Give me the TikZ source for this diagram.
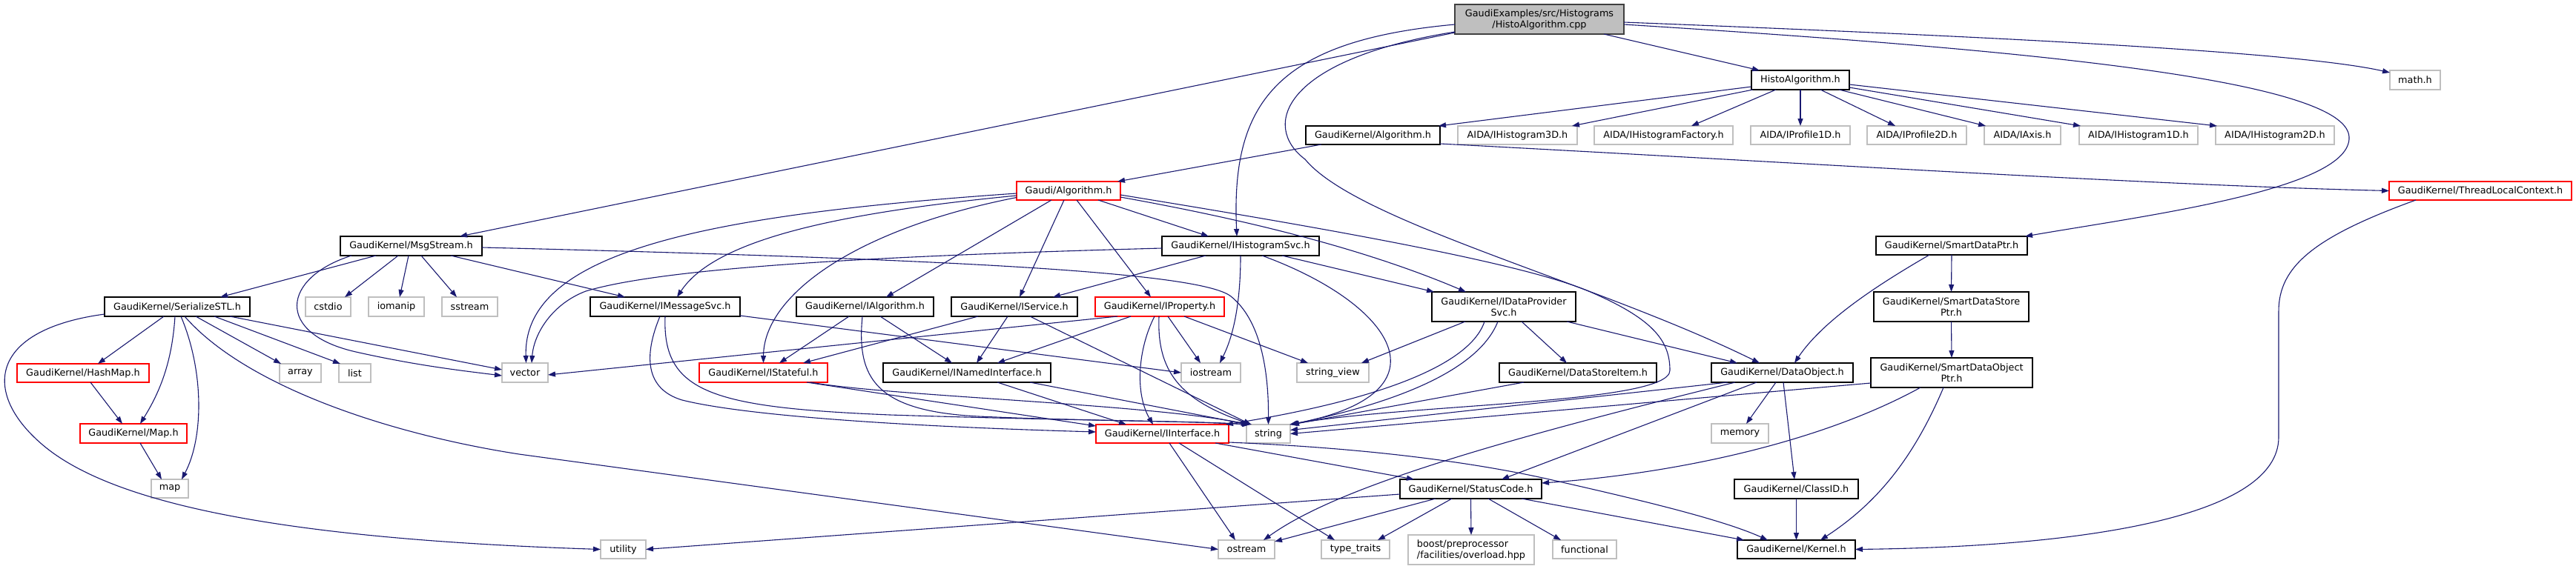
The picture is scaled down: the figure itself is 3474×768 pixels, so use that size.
\documentclass[tikz,border=0pt]{standalone}
\usepackage{fontspec}
\setmainfont{DejaVu Sans}
\usetikzlibrary{arrows.meta}
\definecolor{edgec}{HTML}{191970}
\definecolor{sysgray}{HTML}{BFBFBF}
\definecolor{rootfill}{HTML}{BFBFBF}
\definecolor{rootdraw}{HTML}{404040}
\definecolor{truncred}{HTML}{FF0000}
\newcommand{\nodefont}{\fontsize{12.8}{15}\selectfont}
\tikzset{
  nd/.style={rectangle, inner sep=0pt, outer sep=0pt, align=center, font=\nodefont, line width=1.2pt, fill=white},
  doc/.style={nd, draw=black},
  trunc/.style={nd, draw=truncred},
  sys/.style={nd, draw=sysgray},
  rootn/.style={nd, draw=rootdraw, fill=rootfill},
  sz/.style 2 args={minimum width=#1pt, minimum height=#2pt},
  dep/.style={draw=edgec, line width=1.1pt, -{Triangle[length=10pt,width=7pt]}}
}
\begin{document}
\begin{tikzpicture}[x=1pt,y=-1pt]
\useasboundingbox (0,0) rectangle (3474,768);
\fill[white] (0,0) rectangle (3474,768);

% ---------- nodes ----------
\node[rootn, sz={228}{40}] (root) at (2076,26) {GaudiExamples/src/Histograms\\/HistoAlgorithm.cpp};
\node[doc, sz={132}{26}] (histoh) at (2428,108) {HistoAlgorithm.h};
\node[doc, sz={181}{25}] (gkalg) at (1851.5,182.5) {GaudiKernel/Algorithm.h};
\node[sys, sz={161}{25}] (h3d) at (2046.5,182.5) {AIDA/IHistogram3D.h};
\node[sys, sz={187}{25}] (hfac) at (2243.5,182.5) {AIDA/IHistogramFactory.h};
\node[sys, sz={134}{25}] (p1d) at (2428,182.5) {AIDA/IProfile1D.h};
\node[sys, sz={134}{25}] (p2d) at (2585,182.5) {AIDA/IProfile2D.h};
\node[sys, sz={103}{25}] (axis) at (2727.5,182.5) {AIDA/IAxis.h};
\node[sys, sz={160}{25}] (h1d) at (2884,182.5) {AIDA/IHistogram1D.h};
\node[sys, sz={160}{25}] (h2d) at (3068,182.5) {AIDA/IHistogram2D.h};
\node[sys, sz={68}{26}] (mathh) at (3257,108) {math.h};
\node[trunc, sz={246}{25}] (tlc) at (3345,257.5) {GaudiKernel/ThreadLocalContext.h};
\node[trunc, sz={140}{25}] (galg) at (1441,257.5) {Gaudi/Algorithm.h};
\node[doc, sz={191}{26}] (msg) at (554.5,332) {GaudiKernel/MsgStream.h};
\node[doc, sz={212}{26}] (hsvc) at (1673,332) {GaudiKernel/IHistogramSvc.h};
\node[doc, sz={204}{25}] (sdp) at (2632,331.5) {GaudiKernel/SmartDataPtr.h};
\node[doc, sz={196}{26}] (ser) at (239,414) {GaudiKernel/SerializeSTL.h};
\node[sys, sz={61}{26}] (cstdio) at (442.5,414) {cstdio};
\node[sys, sz={75}{26}] (iomanip) at (534.5,414) {iomanip};
\node[sys, sz={75}{26}] (sstream) at (633.5,414) {sstream};
\node[doc, sz={202}{26}] (imsg) at (897,414) {GaudiKernel/IMessageSvc.h};
\node[doc, sz={185}{26}] (ialg) at (1166.5,414) {GaudiKernel/IAlgorithm.h};
\node[doc, sz={170}{26}] (isvc) at (1368,414) {GaudiKernel/IService.h};
\node[trunc, sz={174}{26}] (iprop) at (1564,414) {GaudiKernel/IProperty.h};
\node[doc, sz={194}{40}] (idp) at (2028,414) {GaudiKernel/IDataProvider\\Svc.h};
\node[doc, sz={209}{40}] (sdsp) at (2631.5,414) {GaudiKernel/SmartDataStore\\Ptr.h};
\node[trunc, sz={178}{25}] (hash) at (112,503.5) {GaudiKernel/HashMap.h};
\node[sys, sz={56}{25}] (arr) at (405,503.5) {array};
\node[sys, sz={43}{25}] (lst) at (478.5,503.5) {list};
\node[sys, sz={62}{26}] (vec) at (708,503) {vector};
\node[trunc, sz={173}{26}] (istate) at (1029.5,503) {GaudiKernel/IStateful.h};
\node[doc, sz={226}{26}] (iname) at (1304,503) {GaudiKernel/INamedInterface.h};
\node[sys, sz={80}{26}] (iostr) at (1633,503) {iostream};
\node[sys, sz={97}{26}] (strview) at (1797.5,503) {string\_view};
\node[doc, sz={212}{26}] (dsi) at (2128,503) {GaudiKernel/DataStoreItem.h};
\node[doc, sz={191}{26}] (dobj) at (2403.5,503) {GaudiKernel/DataObject.h};
\node[doc, sz={218}{40}] (sdop) at (2632,503) {GaudiKernel/SmartDataObject\\Ptr.h};
\node[trunc, sz={144}{26}] (maph) at (180,585) {GaudiKernel/Map.h};
\node[trunc, sz={179}{25}] (iint) at (1567.5,585.5) {GaudiKernel/IInterface.h};
\node[sys, sz={59}{25}] (str) at (1710.5,585.5) {string};
\node[sys, sz={77}{26}] (mem) at (2346.5,585) {memory};
\node[sys, sz={50}{25}] (stdmap) at (229,659.5) {map};
\node[doc, sz={191}{26}] (status) at (1983.5,660) {GaudiKernel/StatusCode.h};
\node[doc, sz={167}{26}] (classid) at (2422.5,660) {GaudiKernel/ClassID.h};
\node[sys, sz={61}{25}] (util) at (840.5,741.5) {utility};
\node[sys, sz={76}{25}] (ostr) at (1681,741.5) {ostream};
\node[sys, sz={92}{25}] (ttraits) at (1828,741.5) {type\_traits};
\node[sys, sz={170}{40}, align=left] (boost) at (1984,742) {boost/preprocessor\\/facilities/overload.hpp};
\node[sys, sz={86}{25}] (func) at (2137,741.5) {functional};
\node[doc, sz={159}{25}] (kernel) at (2422.5,741.5) {GaudiKernel/Kernel.h};

% ---------- edges ----------
% root
\draw[dep] ([xshift=87]root.south) -- ([xshift=-55]histoh.north);
\draw[dep] ([yshift=2]root.south west) -- ([xshift=65.5]msg.north);
\draw[dep] ([yshift=-7]root.west) .. controls (1720,55) and (1660,140) .. ([xshift=-5]hsvc.north);
\draw[dep] ([yshift=-17]root.west) .. controls (1730,80) and (1700,170) .. (1760,215) .. controls (1830,300) and (2150,380) .. ([xshift=-30.5]dobj.north);
\draw[dep] ([yshift=-7]root.east) .. controls (2700,65) and (3165,105) .. (3168,185) .. controls (3171,255) and (2900,290) .. ([xshift=-3]sdp.north east);
\draw[dep] ([yshift=-4]root.east) .. controls (2700,50) and (3100,70) .. ([yshift=10]mathh.west);
% HistoAlgorithm.h
\draw[dep] ([yshift=-9]histoh.west) -- ([xshift=-2]gkalg.north east);
\draw[dep] ([xshift=2]histoh.south west) -- ([xshift=73.5]h3d.north);
\draw[dep] ([xshift=-33]histoh.south) -- ([xshift=37.5]hfac.north);
\draw[dep] (histoh.south) -- (p1d.north);
\draw[dep] ([xshift=27]histoh.south) -- ([xshift=-29]p2d.north);
\draw[dep] ([xshift=52]histoh.south) -- ([xshift=-49.5]axis.north);
\draw[dep] ([yshift=-10]histoh.east) -- ([xshift=2]h1d.north west);
\draw[dep] ([yshift=-6]histoh.east) -- ([xshift=2]h2d.north west);
% GaudiKernel/Algorithm.h
\draw[dep] ([xshift=-69.5]gkalg.south) -- ([xshift=-4]galg.north east);
\draw[dep] ([yshift=-11.5]gkalg.east) .. controls (2400,218) and (2900,250) .. (tlc.west);
\draw[dep] ([xshift=-87]tlc.south) .. controls (3120,320) and (3073,360) .. (3073,420) -- (3073,590) .. controls (3073,700) and (2800,738) .. (kernel.east);
% Gaudi/Algorithm.h
\draw[dep] ([yshift=-3.5]galg.west) .. controls (950,290) and (705,340) .. ([xshift=1.5]vec.north);
\draw[dep] ([yshift=-6.5]galg.west) .. controls (1100,290) and (960,330) .. ([xshift=16]imsg.north);
\draw[dep] ([yshift=-9]galg.west) .. controls (1150,310) and (1030,400) .. (istate.north);
\draw[dep] ([xshift=-23]galg.south) -- ([xshift=28.5]ialg.north);
\draw[dep] ([xshift=-6]galg.south) -- ([xshift=7]isvc.north);
\draw[dep] ([xshift=11]galg.south) -- ([xshift=-12]iprop.north);
\draw[dep] ([xshift=40]galg.south) -- ([xshift=-43]hsvc.north);
\draw[dep] ([yshift=-8.5]galg.east) .. controls (1700,300) and (1850,340) .. ([xshift=-51]idp.north);
\draw[dep] ([yshift=-5.5]galg.east) .. controls (1800,310) and (2050,355) .. (2140,392) .. controls (2230,430) and (2252,460) .. (2252,500) .. controls (2252,545) and (1900,545) .. ([xshift=-1]str.north east);
% MsgStream.h
\draw[dep] ([xshift=-47.5]msg.south) -- ([xshift=58]ser.north);
\draw[dep] ([xshift=-17.5]msg.south) -- ([xshift=22.5]cstdio.north);
\draw[dep] ([xshift=-3.5]msg.south) -- ([xshift=4.5]iomanip.north);
\draw[dep] ([xshift=13.5]msg.south) -- ([xshift=-17.5]sstream.north);
\draw[dep] ([xshift=-80.5]msg.south) .. controls (380,375) and (370,450) .. (480,475) .. controls (560,493) and (620,500) .. ([yshift=-4]vec.west);
\draw[dep] ([xshift=53.5]msg.south) -- ([xshift=-54]imsg.north);
\draw[dep] ([yshift=-2]msg.east) .. controls (1300,350) and (1620,368) .. (1660,400) .. controls (1700,432) and (1711,500) .. (str.north);
% SerializeSTL.h
\draw[dep] ([xshift=-18]ser.south) -- ([xshift=20]hash.north);
\draw[dep] ([xshift=-3]ser.south) .. controls (232,490) and (215,530) .. ([xshift=9]maph.north);
\draw[dep] ([xshift=5]ser.south) .. controls (275,500) and (275,590) .. ([xshift=16]stdmap.north);
\draw[dep] ([xshift=25]ser.south) -- ([xshift=2]arr.north west);
\draw[dep] ([xshift=50]ser.south) -- ([xshift=2]lst.north west);
\draw[dep] ([xshift=71]ser.south) -- ([yshift=4]vec.west);
\draw[dep] ([xshift=10]ser.south) .. controls (330,520) and (520,585) .. (700,613) -- (ostr.west);
\draw[dep] ([yshift=-10]ser.west) .. controls (-15,445) and (-25,530) .. (57,600) .. controls (155,684) and (400,728) .. (util.west);
% HashMap.h, Map.h
\draw[dep] ([xshift=10]hash.south) -- ([xshift=-15]maph.north);
\draw[dep] ([xshift=9]maph.south) -- ([xshift=-11]stdmap.north);
% IMessageSvc.h
\draw[dep] ([yshift=1]imsg.south east) -- (iostr.west);
\draw[dep] ([xshift=-7]imsg.south) .. controls (868,480) and (870,525) .. (920,540) .. controls (1000,560) and (1200,575) .. ([yshift=2.5]iint.west);
\draw[dep] (imsg.south) .. controls (893,530) and (960,550) .. (1200,560) .. controls (1450,568) and (1600,568) .. ([xshift=4]str.north west);
% IAlgorithm.h
\draw[dep] ([xshift=-21.5]ialg.south) -- ([xshift=21.5]istate.north);
\draw[dep] ([xshift=20.5]ialg.south) -- ([xshift=-20]iname.north);
\draw[dep] ([xshift=-3.5]ialg.south) .. controls (1155,510) and (1180,555) .. (1320,562) .. controls (1450,568) and (1600,568) .. ([xshift=5]str.north west);
% IService.h
\draw[dep] ([xshift=-49]isvc.south) -- ([xshift=53.5]istate.north);
\draw[dep] ([xshift=-9]isvc.south) -- ([xshift=13]iname.north);
\draw[dep] ([xshift=21]isvc.south) -- ([xshift=6]str.north west);
% IProperty.h
\draw[dep] ([xshift=-57]iprop.south) -- ([yshift=-3]vec.east);
\draw[dep] ([xshift=-39]iprop.south) -- ([xshift=41]iname.north);
\draw[dep] ([xshift=11]iprop.south) -- ([xshift=-14]iostr.north);
\draw[dep] ([xshift=33]iprop.south) -- ([xshift=-33.5]strview.north);
\draw[dep] ([xshift=-7]iprop.south) .. controls (1535,470) and (1530,530) .. ([xshift=-12.5]iint.north);
\draw[dep] ([xshift=-1]iprop.south) .. controls (1560,500) and (1590,540) .. ([xshift=7]str.north west);
% IHistogramSvc.h
\draw[dep] ([yshift=-3]hsvc.west) .. controls (1200,345) and (900,360) .. (790,393) .. controls (745,410) and (720,450) .. ([xshift=9]vec.north);
\draw[dep] ([xshift=-47]hsvc.south) -- ([xshift=52]isvc.north);
\draw[dep] (hsvc.south) .. controls (1673,420) and (1660,460) .. ([xshift=12]iostr.north);
\draw[dep] ([xshift=29]hsvc.south) .. controls (1880,410) and (1960,530) .. (str.north east);
\draw[dep] ([xshift=56]hsvc.south) -- ([xshift=3]idp.north west);
% IDataProviderSvc.h
\draw[dep] ([xshift=-52]idp.south) -- ([xshift=38.5]strview.north);
\draw[dep] ([xshift=-26]idp.south) .. controls (1980,500) and (1830,545) .. ([xshift=-4]iint.north east);
\draw[dep] ([xshift=-8]idp.south) .. controls (1990,510) and (1850,550) .. ([xshift=1]str.north east);
\draw[dep] ([xshift=24]idp.south) -- ([xshift=-15]dsi.north);
\draw[dep] ([xshift=85]idp.south) -- ([xshift=-60.5]dobj.north);
% DataStoreItem.h
\draw[dep] ([xshift=-73]dsi.south) -- ([xshift=2]str.north east);
% DataObject.h
\draw[dep] ([xshift=-73.5]dobj.south) -- ([yshift=5]str.east);
\draw[dep] ([xshift=-63.5]dobj.south) .. controls (2000,600) and (1800,660) .. ([xshift=23]ostr.north);
\draw[dep] ([xshift=-34.5]dobj.south) -- ([xshift=41.5]status.north);
\draw[dep] ([xshift=-8.5]dobj.south) -- ([xshift=8.5]mem.north);
\draw[dep] ([xshift=1.5]dobj.south) -- ([xshift=-2.5]classid.north);
% SmartDataPtr family
\draw[dep] (sdp.south) -- (sdsp.north);
\draw[dep] ([xshift=-30]sdp.south) .. controls (2540,380) and (2460,430) .. ([xshift=16.5]dobj.north);
\draw[dep] (sdsp.south) -- (sdop.north);
\draw[dep] ([yshift=-14]sdop.west) -- (str.east);
\draw[dep] ([xshift=-42]sdop.south) .. controls (2450,600) and (2250,640) .. ([yshift=8]status.east);
\draw[dep] ([xshift=-11]sdop.south) .. controls (2580,620) and (2530,680) .. ([xshift=32.5]kernel.north);
% IStateful.h
\draw[dep] ([xshift=58.5]istate.south) -- ([yshift=10.5]iint.west);
\draw[dep] ([xshift=63.5]istate.south) .. controls (1200,535) and (1550,545) .. ([xshift=3]str.north west);
% INamedInterface.h
\draw[dep] ([xshift=41]iname.south) -- ([xshift=-48.5]iint.north);
\draw[dep] ([xshift=85]iname.south) -- ([xshift=3]str.north west);
% IInterface.h
\draw[dep] ([xshift=9.5]iint.south) -- ([xshift=-15]ostr.north);
\draw[dep] ([xshift=22.5]iint.south) -- ([xshift=-28]ttraits.north);
\draw[dep] ([xshift=71.5]iint.south) -- ([xshift=-76.5]status.north);
\draw[dep] ([yshift=1]iint.south east) .. controls (1850,605) and (1990,625) .. (2085,646) .. controls (2200,672) and (2320,700) .. ([xshift=-38.5]kernel.north);
% StatusCode.h
\draw[dep] ([yshift=-7]status.west) -- (util.east);
\draw[dep] ([xshift=-47.5]status.south) -- ([yshift=-2]ostr.north east);
\draw[dep] ([xshift=-25.5]status.south) -- ([xshift=30]ttraits.north);
\draw[dep] (status.south) -- (boost.north);
\draw[dep] ([xshift=23.5]status.south) -- ([xshift=-32]func.north);
\draw[dep] ([xshift=68.5]status.south) -- ([xshift=9]kernel.north west);
% ClassID.h
\draw[dep] (classid.south) -- (kernel.north);
\end{tikzpicture}
\end{document}
